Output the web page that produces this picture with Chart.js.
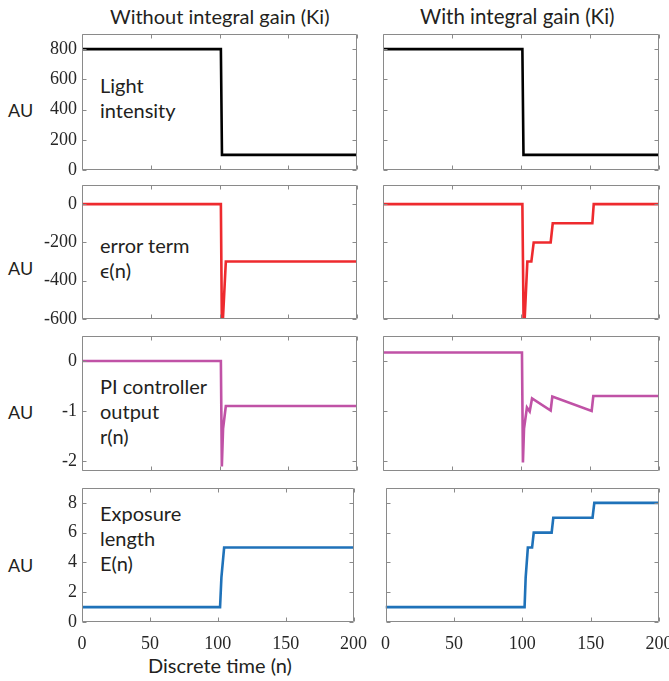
<!DOCTYPE html>
<html>
<head>
<meta charset="utf-8">
<script src="https://cdn.jsdelivr.net/npm/chart.js@4.4.1/dist/chart.umd.min.js"></script>
<style>
  html, body { margin: 0; padding: 0; background: #fff; overflow: hidden; }
  body { width: 669px; height: 681px; position: relative; }
  canvas { position: absolute; }
  .txt { position: absolute; white-space: nowrap; font-family: Lato, "Noto Sans", sans-serif; color: #231f20; line-height: 1; }
</style>
</head>
<body>
<div class="txt" style="left:110px;top:6px;font-size:20px">Without integral gain (Ki)</div>
<div class="txt" style="left:420px;top:6px;font-size:20.5px">With integral gain (Ki)</div>

<div class="txt" style="left:8px;top:101px;font-size:18px">AU</div>
<div class="txt" style="left:8px;top:259px;font-size:18px">AU</div>
<div class="txt" style="left:8px;top:403px;font-size:18px">AU</div>
<div class="txt" style="left:8px;top:556px;font-size:18px">AU</div>

<div class="txt" style="left:100px;top:73px;font-size:20px;line-height:25px">Light<br>intensity</div>
<div class="txt" style="left:100px;top:233px;font-size:20px;line-height:25px">error term<br>ϵ(n)</div>
<div class="txt" style="left:100px;top:374px;font-size:20px;line-height:25px">PI controller<br>output<br>r(n)</div>
<div class="txt" style="left:100px;top:501px;font-size:20px;line-height:25px">Exposure<br>length<br>E(n)</div>

<div class="txt" style="left:148px;top:655px;font-size:20px">Discrete time (n)</div>

<script>
// time axis
const nTicks = [0, 50, 100, 150, 200];

// light intensity (same step in both runs)
const nLight = [0, 101, 101.8, 200];
const lightLeft = [800, 800, 100, 100];
const lightRight = [800, 800, 100, 100];
const lightTicks = [0, 200, 400, 600, 800];

// error term e(n)
const nErrLeft = [0, 101, 101.8, 104.6, 200];
const errLeft = [0, 0, -700, -300, -300];
const nErrRight = [0, 101, 102, 104.6, 107.5, 109.2, 121.5, 123, 151.7, 152.7, 200];
const errRight = [0, 0, -700, -300, -300, -200, -200, -100, -100, 0, 0];
const errTicks = [-600, -400, -200, 0];

// PI controller output r(n)
const nPiLeft = [0, 101, 101.7, 102.6, 104.6, 200];
const piLeft = [0, 0, -2.11, -1.35, -0.9, -0.9];
const nPiRight = [0, 100.7, 101.4, 102.2, 104.3, 106.3, 108, 121.5, 122.7, 151.2, 152.4, 200];
const piRight = [0.17, 0.17, -2.03, -1.35, -0.93, -1.01, -0.75, -0.99, -0.71, -1.0, -0.7, -0.7];
const piTicks = [-2, -1, 0];

// exposure length E(n)
const nExpLeft = [0, 101.7, 102.7, 104.7, 200];
const expLeft = [1, 1, 3, 5, 5];
const nExpRight = [0, 101.7, 102.5, 104.1, 107.2, 108.4, 121.5, 122.7, 151.4, 152.7, 200];
const expRight = [1, 1, 3, 5, 5, 6, 6, 7, 7, 8, 8];
const expTicks = [0, 2, 4, 6, 8];

// layout (pixels)
const rowTop = [34, 185, 335.5, 488.3];
const rowBottom = [170, 319, 471, 623];
const colLeft = [82, 383];
const colRight = [357, 659];
const frameColor = "#8a8a8a";
const tickFont = { family: "'Liberation Serif', 'DejaVu Serif', serif", size: 18 };

const panels = [
  { row: 0, col: 0, n: nLight, v: lightLeft, ticks: lightTicks, min: 0, max: 900, color: "#000000" },
  { row: 0, col: 1, n: nLight, v: lightRight, ticks: lightTicks, min: 0, max: 900, color: "#000000" },
  { row: 1, col: 0, n: nErrLeft, v: errLeft, ticks: errTicks, min: -600, max: 100, color: "#ee2a2e" },
  { row: 1, col: 1, n: nErrRight, v: errRight, ticks: errTicks, min: -600, max: 100, color: "#ee2a2e" },
  { row: 2, col: 0, n: nPiLeft, v: piLeft, ticks: piTicks, min: -2.2, max: 0.5, color: "#c052a6" },
  { row: 2, col: 1, n: nPiRight, v: piRight, ticks: piTicks, min: -2.2, max: 0.5, color: "#c052a6" },
  { row: 3, col: 0, n: nExpLeft, v: expLeft, ticks: expTicks, min: 0, max: 9, color: "#1f72b9" },
  { row: 3, col: 1, n: nExpRight, v: expRight, ticks: expTicks, min: 0, max: 9, color: "#1f72b9" },
];

// matlab-style box with inward ticks on all four sides
const boxPlugin = {
  id: "box",
  afterDatasetsDraw(chart) {
    const { ctx, chartArea: a, scales } = chart;
    const l = Math.round(a.left) + 0.5, r = Math.round(a.right) - 0.5;
    const t = Math.round(a.top) + 0.5, b = Math.round(a.bottom) - 0.5;
    ctx.save();
    ctx.strokeStyle = frameColor;
    ctx.lineWidth = 1;
    ctx.beginPath();
    ctx.rect(l, t, r - l, b - t);
    scales.x.ticks.forEach((tk) => {
      const px = Math.round(scales.x.getPixelForValue(tk.value)) + 0.5;
      ctx.moveTo(px, b); ctx.lineTo(px, b - 4);
      ctx.moveTo(px, t); ctx.lineTo(px, t + 4);
    });
    scales.y.ticks.forEach((tk) => {
      const py = Math.round(scales.y.getPixelForValue(tk.value)) + 0.5;
      ctx.moveTo(l, py); ctx.lineTo(l + 4, py);
      ctx.moveTo(r, py); ctx.lineTo(r - 4, py);
    });
    ctx.stroke();
    ctx.restore();
  },
};

panels.forEach((p) => {
  const bottomRow = p.row === 3;
  const canvasLeft = p.col === 0 ? 0 : 370;
  const canvasWidth = p.col === 0 ? 378 : 330;
  const yAxisW = colLeft[p.col] - canvasLeft;
  const padTop = 24;
  const xAxisH = bottomRow ? 45 : 24;
  const canvasTop = rowTop[p.row] - padTop;
  const canvasHeight = rowBottom[p.row] - rowTop[p.row] + padTop + xAxisH;

  const canvas = document.createElement("canvas");
  canvas.width = canvasWidth;
  canvas.height = canvasHeight;
  canvas.style.left = canvasLeft + "px";
  canvas.style.top = canvasTop + "px";
  document.body.appendChild(canvas);

  new Chart(canvas, {
    type: "line",
    data: {
      datasets: [
        {
          data: p.n.map((x, i) => ({ x: x, y: p.v[i] })),
          borderColor: p.color,
          borderWidth: 2.6,
          pointRadius: 0,
          tension: 0,
          fill: false,
        },
      ],
    },
    options: {
      responsive: false,
      animation: false,
      devicePixelRatio: 1,
      layout: {
        padding: { left: 0, top: padTop, bottom: 0, right: canvasLeft + canvasWidth - colRight[p.col] },
      },
      plugins: { legend: { display: false }, tooltip: { enabled: false } },
      scales: {
        x: {
          type: "linear",
          min: 0,
          max: 200,
          afterBuildTicks: (s) => { s.ticks = nTicks.map((v) => ({ value: v })); },
          afterFit: (s) => { s.height = xAxisH; },
          grid: { display: false, drawTicks: false },
          border: { display: false },
          ticks: { display: bottomRow, font: tickFont, color: "#262626", padding: 11, maxRotation: 0 },
        },
        y: {
          type: "linear",
          min: p.min,
          max: p.max,
          afterBuildTicks: (s) => { s.ticks = p.ticks.map((v) => ({ value: v })); },
          afterFit: (s) => { s.width = yAxisW; },
          grid: { display: false, drawTicks: false },
          border: { display: false },
          ticks: { display: p.col === 0, font: tickFont, color: "#262626", padding: 5 },
        },
      },
    },
    plugins: [boxPlugin],
  });
});
</script>
</body>
</html>
